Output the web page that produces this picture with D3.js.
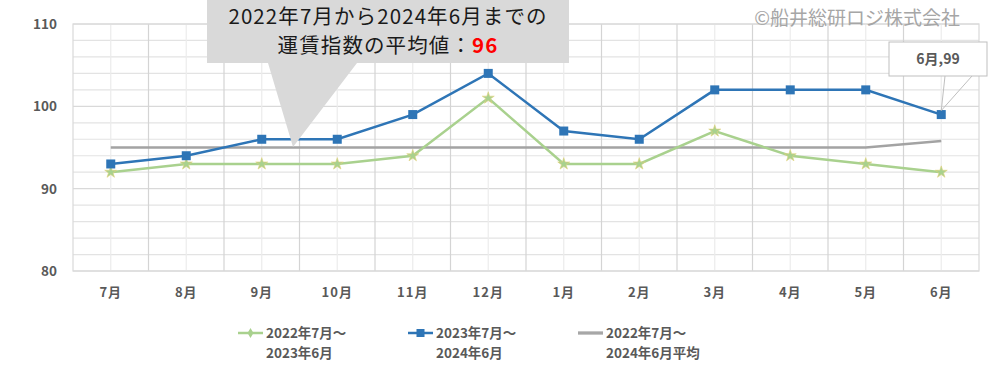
<!DOCTYPE html>
<html><head><meta charset="utf-8">
<script src="https://cdn.jsdelivr.net/npm/d3@7/dist/d3.min.js"></script>
<style>body{margin:0;background:#fff}svg{display:block;font-family:"Noto Sans CJK JP","Noto Sans",sans-serif}</style>
</head><body><svg id="c" width="1000" height="392"></svg>
<script>
const categories = ["7月","8月","9月","10月","11月","12月","1月","2月","3月","4月","5月","6月"];
const series2022 = [92,93,93,93,94,101,93,93,97,94,93,92];
const series2023 = [93,94,96,96,99,104,97,96,102,102,102,99];
const seriesAvg = [95,95,95,95,95,95,95,95,95,95,95,95.8];
const yTicks = [80,90,100,110];
const legendLabels = [["2022年7月～","2023年6月"],["2023年7月～","2024年6月"],["2022年7月～","2024年6月平均"]];
const calloutLines = ["2022年7月から2024年6月までの","運賃指数の平均値："];
const calloutValue = "96";
const copyright = "©船井総研ロジ株式会社";
const pointLabel = "6月,99";

const svg = d3.select("#c");
const L=73,R=979,T=24,B=271;
const x = d3.scaleBand().domain(categories).range([L,R]).padding(0);
const y = d3.scaleLinear().domain([80,110]).range([B,T]);
const cx = c => x(c)+x.bandwidth()/2;

// grid
const g = svg.append("g");
g.selectAll(".hg").data(d3.range(80,111,2)).join("line")
 .attr("x1",L).attr("x2",R).attr("y1",d=>y(d)).attr("y2",d=>y(d))
 .attr("stroke",d=>d%10===0?"#d9d9d9":"#e3e3e3").attr("stroke-width",1.2);
g.selectAll(".vc").data(categories).join("line")
 .attr("x1",cx).attr("x2",cx).attr("y1",T).attr("y2",B).attr("stroke","#ececec").attr("stroke-width",1.2);
g.selectAll(".vb").data(categories.slice(1)).join("line")
 .attr("x1",d=>x(d)).attr("x2",d=>x(d)).attr("y1",T).attr("y2",B).attr("stroke","#d4d4d4").attr("stroke-width",1.2);
g.append("rect").attr("x",L).attr("y",T).attr("width",R-L).attr("height",B-T).attr("fill","none").attr("stroke","#d9d9d9").attr("stroke-width",1.2);

// y axis labels
svg.append("g").selectAll("text").data(yTicks).join("text")
 .attr("x",57).attr("y",d=>y(d)+5).attr("text-anchor","end")
 .attr("font-size",13.5).attr("font-weight","bold").attr("fill","#595959").text(d=>d);
// x axis labels
svg.append("g").selectAll("text").data(categories).join("text")
 .attr("x",cx).attr("y",297).attr("text-anchor","middle").attr("letter-spacing",1)
 .attr("font-size",13).attr("font-weight","bold").attr("fill","#595959").text(d=>d);

const line = d3.line().x((d,i)=>cx(categories[i])).y(d=>y(d));
// avg
svg.append("path").attr("d",line(seriesAvg)).attr("fill","none").attr("stroke","#a3a3a3").attr("stroke-width",2.5);
// green
svg.append("path").attr("d",line(series2022)).attr("fill","none").attr("stroke","#a9d18e").attr("stroke-width",2.5);
const star = d3.symbol().type(d3.symbolStar).size(45);
svg.append("g").selectAll("path").data(series2022).join("path")
 .attr("d",star).attr("transform",(d,i)=>`translate(${cx(categories[i])},${y(d)})`)
 .attr("fill","#a9d18e").attr("stroke","#e2d27a").attr("stroke-width",0.6);
// blue
svg.append("path").attr("d",line(series2023)).attr("fill","none").attr("stroke","#2e75b6").attr("stroke-width",2.5);
svg.append("g").selectAll("rect").data(series2023).join("rect")
 .attr("x",(d,i)=>cx(categories[i])-4.5).attr("y",d=>y(d)-4.5).attr("width",9).attr("height",9).attr("fill","#2e75b6");

// callout
const co = svg.append("g");
co.append("path").attr("d","M207,0 L569,0 L569,63 L357,63 L293,147 L268,63 L207,63 Z").attr("fill","#d9d9d9");
co.append("text").attr("x",388).attr("y",24).attr("text-anchor","middle").attr("font-size",20.5).attr("letter-spacing",1.1).attr("fill","#1a1a1a").text(calloutLines[0]);
const t2 = co.append("text").attr("x",388).attr("y",53).attr("text-anchor","middle").attr("font-size",20.5).attr("letter-spacing",1.1).attr("fill","#1a1a1a");
t2.append("tspan").text(calloutLines[1]);
t2.append("tspan").attr("fill","#ff0000").attr("font-weight","bold").text(calloutValue);

// copyright
svg.append("text").attr("x",960).attr("y",25).attr("text-anchor","end").attr("font-size",19).attr("fill","#a6a6a6").text(copyright);

// point label
const px = cx(categories[11]), py = y(series2023[11]);
svg.append("path").attr("d",`M945,76 L${px},${py-4} L972,76`).attr("fill","none").attr("stroke","#bfbfbf").attr("stroke-width",1);
svg.append("rect").attr("x",889).attr("y",42).attr("width",98).attr("height",34).attr("fill","#fff").attr("stroke","#bfbfbf").attr("stroke-width",1);
svg.append("text").attr("x",938).attr("y",64).attr("text-anchor","middle").attr("font-size",14).attr("font-weight","bold").attr("fill","#595959").text(pointLabel);

// legend
const lg = svg.append("g");
const lx = [238,408,578];
legendLabels.forEach((lab,i)=>{
  const gx = lx[i], gy = 333;
  if(i===0){
    lg.append("line").attr("x1",gx).attr("x2",gx+25).attr("y1",gy).attr("y2",gy).attr("stroke","#a9d18e").attr("stroke-width",2.5);
    lg.append("path").attr("d",d3.symbol().type(d3.symbolDiamond).size(30)).attr("transform",`translate(${gx+12.5},${gy})`).attr("fill","#a9d18e");
  } else if(i===1){
    lg.append("line").attr("x1",gx).attr("x2",gx+25).attr("y1",gy).attr("y2",gy).attr("stroke","#2e75b6").attr("stroke-width",2.5);
    lg.append("rect").attr("x",gx+8.5).attr("y",gy-4).attr("width",8).attr("height",8).attr("fill","#2e75b6");
  } else {
    lg.append("line").attr("x1",gx).attr("x2",gx+25).attr("y1",gy).attr("y2",gy).attr("stroke","#8c8c8c").attr("stroke-width",3);
    lg.append("line").attr("x1",gx).attr("x2",gx+25).attr("y1",gy).attr("y2",gy).attr("stroke","#d0d0d0").attr("stroke-width",0.8);
  }
  lab.forEach((s,j)=>{
    lg.append("text").attr("x",gx+28).attr("y",gy+5+j*20).attr("font-size",13.5).attr("font-weight","bold").attr("fill","#595959").text(s);
  });
});
</script></body></html>
